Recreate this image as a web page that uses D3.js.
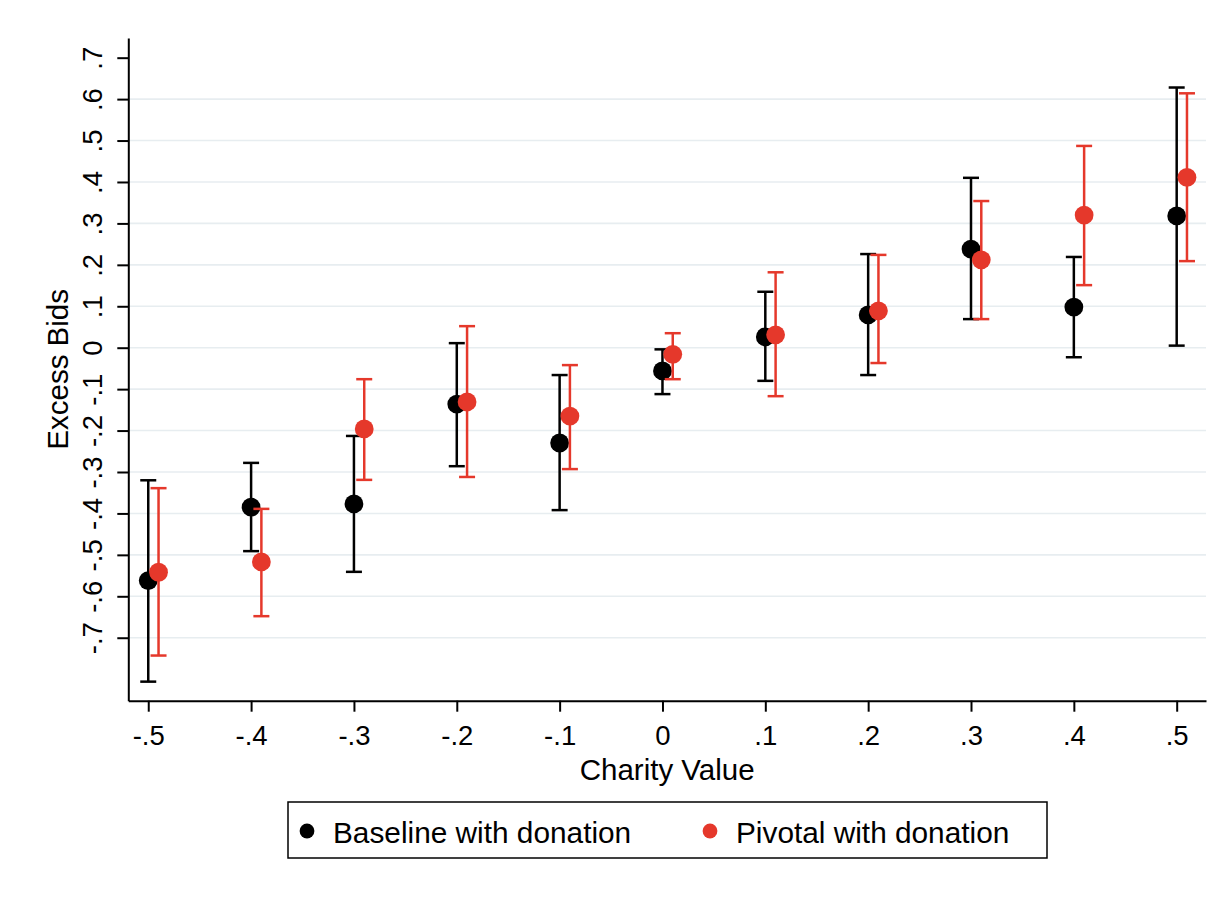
<!DOCTYPE html>
<html>
<head>
<meta charset="utf-8">
<script src="https://cdn.jsdelivr.net/npm/d3@7"></script>
<style>
    body { margin: 0; background: #fff; }
    text { font-family: "Liberation Sans", Arial, Helvetica, sans-serif; fill: #000; }
</style>
</head>
<body>
<script>
// charity values on the x axis
const charityValues = [-0.5, -0.4, -0.3, -0.2, -0.1, 0, 0.1, 0.2, 0.3, 0.4, 0.5];
const xTickLabels = ['-.5', '-.4', '-.3', '-.2', '-.1', '0', '.1', '.2', '.3', '.4', '.5'];

const yTickValues = [-0.7, -0.6, -0.5, -0.4, -0.3, -0.2, -0.1, 0, 0.1, 0.2, 0.3, 0.4, 0.5, 0.6, 0.7];
const yTickLabels = ['-.7', '-.6', '-.5', '-.4', '-.3', '-.2', '-.1', '0', '.1', '.2', '.3', '.4', '.5', '.6', '.7'];

// Baseline with donation: mean excess bid and CI bounds
const baselineMean = [-0.562, -0.385, -0.377, -0.136, -0.230, -0.056, 0.026, 0.079, 0.238, 0.098, 0.318];
const baselineLow  = [-0.806, -0.491, -0.541, -0.286, -0.392, -0.112, -0.080, -0.066, 0.069, -0.023, 0.005];
const baselineHigh = [-0.320, -0.278, -0.213, 0.011, -0.066, -0.004, 0.135, 0.226, 0.410, 0.219, 0.628];

// Pivotal with donation
const pivotalMean = [-0.542, -0.517, -0.196, -0.131, -0.165, -0.016, 0.031, 0.089, 0.212, 0.320, 0.411];
const pivotalLow  = [-0.743, -0.648, -0.319, -0.312, -0.293, -0.076, -0.117, -0.037, 0.069, 0.151, 0.209];
const pivotalHigh = [-0.339, -0.389, -0.076, 0.052, -0.042, 0.035, 0.182, 0.224, 0.354, 0.487, 0.614];

const seriesNames = ['Baseline with donation', 'Pivotal with donation'];

drawChart();

function drawChart()
{
    const width = 1232;
    const height = 899;
    const red = '#e5382b';
    const pivotalShift = 0.01;  // pivotal series is nudged right

    const svg = d3.select('body')
        .append('svg')
        .attr('width', width)
        .attr('height', height);

    const x = d3.scaleLinear().domain([-0.5194, 0.5285]).range([128.3, 1206]);
    const y = d3.scaleLinear().domain([-0.852, 0.7475]).range([700.7, 38]);

    // grid lines (none on the top tick)
    svg.append('g')
        .selectAll('line')
        .data(yTickValues.filter(v => v < 0.69))
        .join('line')
        .attr('x1', x.range()[0])
        .attr('x2', x.range()[1])
        .attr('y1', d => y(d))
        .attr('y2', d => y(d))
        .attr('stroke', '#e7edf0')
        .attr('stroke-width', 1.6);

    // y axis
    const yAxis = svg.append('g')
        .attr('transform', `translate(${x.range()[0]},0)`)
        .call(d3.axisLeft(y)
            .tickValues(yTickValues)
            .tickFormat((d, i) => yTickLabels[i])
            .tickSize(11)
            .tickSizeOuter(0));
    styleAxis(yAxis);
    yAxis.selectAll('.tick text')
        .attr('x', null)
        .attr('dy', null)
        .attr('text-anchor', 'middle')
        .style('font-size', '27.5px')
        .attr('transform', 'translate(-26.3,0) rotate(-90)');

    // x axis
    const xAxis = svg.append('g')
        .attr('transform', `translate(0,${y.range()[0]})`)
        .call(d3.axisBottom(x)
            .tickValues(charityValues)
            .tickFormat((d, i) => xTickLabels[i])
            .tickSize(11)
            .tickSizeOuter(0));
    styleAxis(xAxis);
    xAxis.selectAll('.tick text')
        .attr('y', null)
        .attr('dy', null)
        .attr('text-anchor', 'middle')
        .style('font-size', '27.5px')
        .attr('transform', 'translate(0,44)');

    // axis titles
    const midX = (x.range()[0] + x.range()[1]) / 2;
    const midY = (y.range()[0] + y.range()[1]) / 2;
    svg.append('text')
        .attr('transform', `translate(${midX},780)`)
        .attr('text-anchor', 'middle')
        .style('font-size', '29.5px')
        .text('Charity Value');
    svg.append('text')
        .attr('transform', `translate(68,${midY}) rotate(-90)`)
        .attr('text-anchor', 'middle')
        .style('font-size', '29.5px')
        .text('Excess Bids');

    // series: error bars then markers
    const series = [
        {mean: baselineMean, low: baselineLow, high: baselineHigh, shift: 0, color: '#000'},
        {mean: pivotalMean, low: pivotalLow, high: pivotalHigh, shift: pivotalShift, color: red}
    ];

    series.forEach(s =>
    {
        const g = svg.append('g');
        const rows = charityValues.map((cv, i) => ({cx: cv + s.shift, mean: s.mean[i], low: s.low[i], high: s.high[i]}));

        g.selectAll('.bar')
            .data(rows)
            .join('line')
            .attr('x1', d => x(d.cx))
            .attr('x2', d => x(d.cx))
            .attr('y1', d => y(d.low))
            .attr('y2', d => y(d.high))
            .attr('stroke', s.color)
            .attr('stroke-width', 2.5);

        ['low', 'high'].forEach(k =>
        {
            g.selectAll('.cap-' + k)
                .data(rows)
                .join('line')
                .attr('x1', d => x(d.cx) - 8)
                .attr('x2', d => x(d.cx) + 8)
                .attr('y1', d => y(d[k]))
                .attr('y2', d => y(d[k]))
                .attr('stroke', s.color)
                .attr('stroke-width', 2.5);
        });

        g.selectAll('circle')
            .data(rows)
            .join('circle')
            .attr('cx', d => x(d.cx))
            .attr('cy', d => y(d.mean))
            .attr('r', 9.4)
            .attr('fill', s.color);
    });

    // legend
    const legend = svg.append('g');
    legend.append('rect')
        .attr('x', 288)
        .attr('y', 802)
        .attr('width', 759)
        .attr('height', 56)
        .attr('fill', 'none')
        .attr('stroke', '#000')
        .attr('stroke-width', 1.5);

    const legendX = [307, 710];
    seriesNames.forEach((name, i) =>
    {
        legend.append('circle')
            .attr('cx', legendX[i])
            .attr('cy', 831)
            .attr('r', 7.4)
            .attr('fill', series[i].color);
        legend.append('text')
            .attr('transform', `translate(${legendX[i] + 26},843)`)
            .style('font-size', '29.8px')
            .text(name);
    });

    function styleAxis(g)
    {
        g.select('.domain').attr('stroke', '#000').attr('stroke-width', 2);
        g.selectAll('.tick line').attr('stroke', '#000').attr('stroke-width', 2);
    }
}
</script>
</body>
</html>
